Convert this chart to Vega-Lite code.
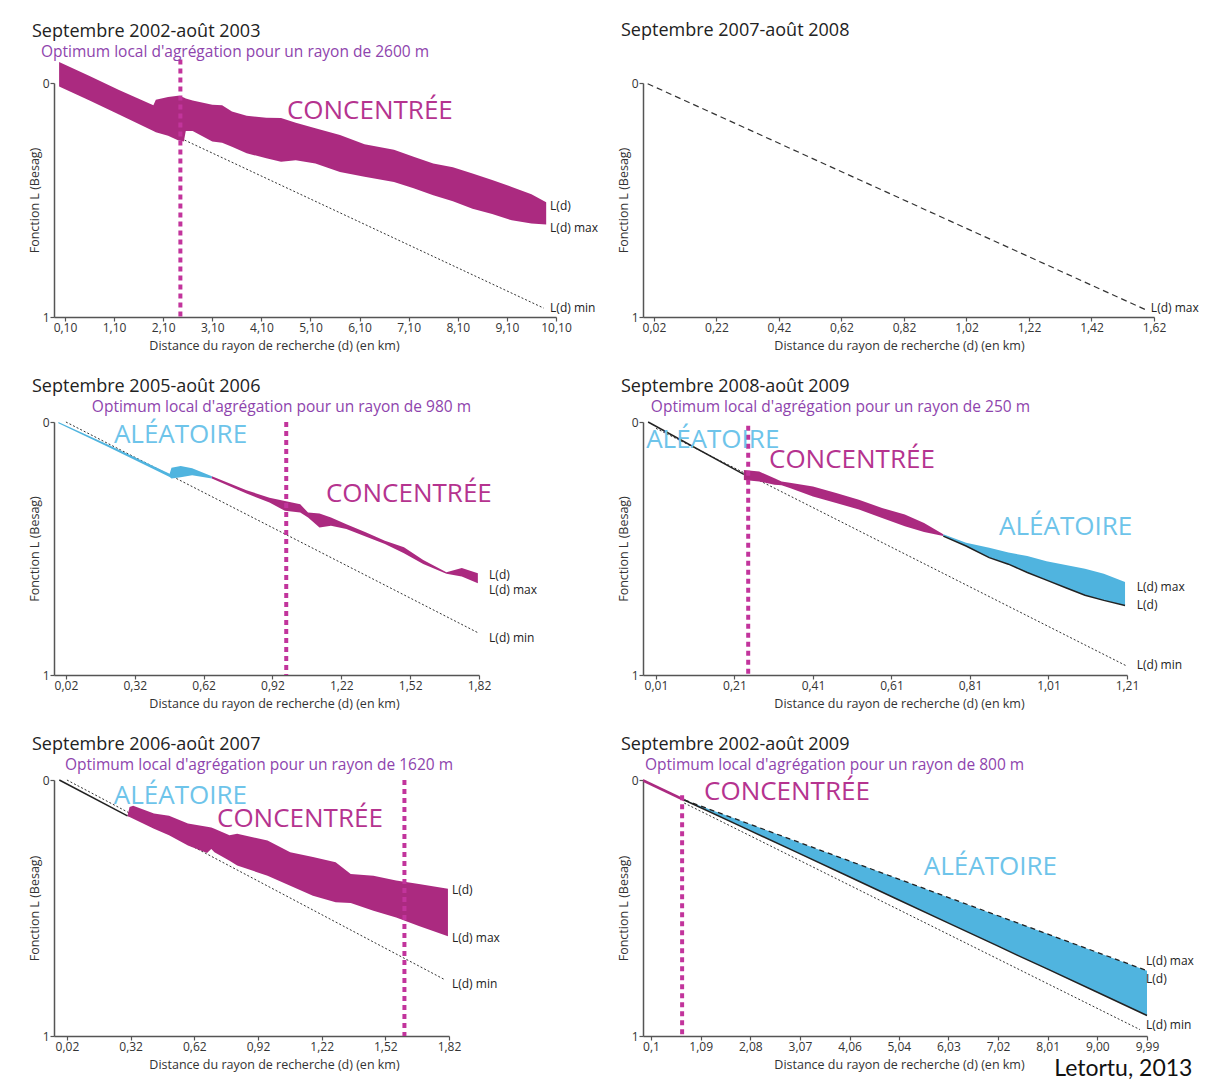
{
  "$schema": "https://vega.github.io/schema/vega-lite/v6.json",
  "padding": {"left": 28, "top": 22, "right": 0, "bottom": 0},
  "background": "white",
  "columns": 2,
  "align": "each",
  "bounds": "flush",
  "spacing": {"row": 105, "column": 87},
  "config": {
    "font": "Open Sans",
    "view": {"stroke": null},
    "axis": {"grid": false, "domainColor": "#555", "domainWidth": 1.5, "tickColor": "#555", "tickWidth": 1.2, "tickSize": 4,
      "labelFont": "Open Sans", "labelFontSize": 12, "labelColor": "#333", "labelPadding": 1, "labelFlush": false, "labelOverlap": false, "labelBound": false,
      "titleFont": "Open Sans", "titleFontSize": 12.5, "titleFontWeight": "normal", "titleColor": "#333"},
    "axisX": {"titlePadding": 6},
    "axisY": {"titlePadding": 1, "format": "d"},
    "title": {"anchor": "start", "frame": "group", "dx": -22, "font": "Open Sans", "fontSize": 18, "fontWeight": "normal", "color": "#222"}
  },
  "concat": [
    {
      "width": 502, "height": 234,
      "title": {"text": "Septembre 2002-août 2003", "offset": 4},
      "layer": [
        {"data": {"values": [{}]}, "mark": {"type": "rule", "color": "#8c8c8c", "strokeWidth": 1.5},
         "encoding": {"y": {"datum": 0, "type": "quantitative", "scale": {"domain": [0, 1], "reverse": true, "nice": false, "zero": false}, "axis": {"values": [0, 1], "format": "d", "title": "Fonction L (Besag)"}},
           "x": {"datum": 0.1, "type": "quantitative", "scale": {"domain": [-0.124, 10.1], "nice": false, "zero": false}, "axis": {"values": [0.1, 1.1, 2.1, 3.1, 4.1, 5.1, 6.1, 7.1, 8.1, 9.1, 10.1], "labelExpr": "replace(format(datum.value, '.2f'), '.', ',')", "title": "Distance du rayon de recherche (d) (en km)", "titleX": 220}}}},
        {"data": {"values": [{"d": 0.1, "L": 0.005}, {"d": 9.85, "L": 0.962}]},
         "mark": {"type": "line", "color": "#333", "strokeWidth": 1, "strokeDash": [2, 2]},
         "encoding": {"x": {"field": "d", "type": "quantitative"}, "y": {"field": "L", "type": "quantitative"}}},
        {"data": {"values": [
          {"d": -0.02, "L": -0.09, "L2": 0.015, "zone": "Concentrée", "seg": 1},
          {"d": 0.6, "L": -0.03, "L2": 0.075, "zone": "Concentrée", "seg": 1},
          {"d": 1.2, "L": 0.03, "L2": 0.135, "zone": "Concentrée", "seg": 1},
          {"d": 1.9, "L": 0.095, "L2": 0.205, "zone": "Concentrée", "seg": 1},
          {"d": 1.95, "L": 0.072, "L2": 0.21, "zone": "Concentrée", "seg": 1},
          {"d": 2.2, "L": 0.06, "L2": 0.225, "zone": "Concentrée", "seg": 1},
          {"d": 2.4, "L": 0.055, "L2": 0.245, "zone": "Concentrée", "seg": 1},
          {"d": 2.52, "L": 0.062, "L2": 0.25, "zone": "Concentrée", "seg": 1},
          {"d": 2.56, "L": 0.066, "L2": 0.205, "zone": "Concentrée", "seg": 1},
          {"d": 2.7, "L": 0.075, "L2": 0.205, "zone": "Concentrée", "seg": 1},
          {"d": 3.1, "L": 0.093, "L2": 0.25, "zone": "Concentrée", "seg": 1},
          {"d": 3.3, "L": 0.095, "L2": 0.255, "zone": "Concentrée", "seg": 1},
          {"d": 3.5, "L": 0.122, "L2": 0.272, "zone": "Concentrée", "seg": 1},
          {"d": 3.8, "L": 0.14, "L2": 0.3, "zone": "Concentrée", "seg": 1},
          {"d": 4.2, "L": 0.148, "L2": 0.322, "zone": "Concentrée", "seg": 1},
          {"d": 4.5, "L": 0.15, "L2": 0.337, "zone": "Concentrée", "seg": 1},
          {"d": 4.8, "L": 0.17, "L2": 0.33, "zone": "Concentrée", "seg": 1},
          {"d": 5.2, "L": 0.193, "L2": 0.344, "zone": "Concentrée", "seg": 1},
          {"d": 5.7, "L": 0.222, "L2": 0.38, "zone": "Concentrée", "seg": 1},
          {"d": 6.2, "L": 0.262, "L2": 0.401, "zone": "Concentrée", "seg": 1},
          {"d": 6.8, "L": 0.285, "L2": 0.423, "zone": "Concentrée", "seg": 1},
          {"d": 7.2, "L": 0.315, "L2": 0.45, "zone": "Concentrée", "seg": 1},
          {"d": 7.6, "L": 0.344, "L2": 0.48, "zone": "Concentrée", "seg": 1},
          {"d": 8.0, "L": 0.36, "L2": 0.505, "zone": "Concentrée", "seg": 1},
          {"d": 8.4, "L": 0.387, "L2": 0.537, "zone": "Concentrée", "seg": 1},
          {"d": 8.8, "L": 0.415, "L2": 0.56, "zone": "Concentrée", "seg": 1},
          {"d": 9.2, "L": 0.444, "L2": 0.587, "zone": "Concentrée", "seg": 1},
          {"d": 9.6, "L": 0.475, "L2": 0.6, "zone": "Concentrée", "seg": 1},
          {"d": 9.9, "L": 0.51, "L2": 0.605, "zone": "Concentrée", "seg": 1}]},
         "mark": {"type": "area"},
         "encoding": {"x": {"field": "d", "type": "quantitative"}, "y": {"field": "L", "type": "quantitative"}, "y2": {"field": "L2"},
           "color": {"field": "zone", "type": "nominal", "scale": {"domain": ["Concentrée", "Aléatoire"], "range": ["#ab2a80", "#50b4df"]}, "legend": null},
           "detail": {"field": "seg"}}},
        {"data": {"values": [{}]}, "mark": {"type": "rule", "color": "#c2349c", "strokeWidth": 4, "strokeDash": [5, 4]},
         "encoding": {"x": {"datum": 2.45, "type": "quantitative"}, "y": {"datum": -0.1, "type": "quantitative"}, "y2": {"datum": 1}}},
        {"data": {"values": [{"d": -0.389, "L": -0.132, "label": "Optimum local d'agrégation pour un rayon de 2600 m"}]},
         "mark": {"type": "text", "align": "left", "baseline": "middle", "fontSize": 15.5, "color": "#8e44ad"},
         "encoding": {"x": {"field": "d", "type": "quantitative"}, "y": {"field": "L", "type": "quantitative"}, "text": {"field": "label"}}},
        {"data": {"values": [{"d": 4.62, "L": 0.12, "label": "CONCENTRÉE"}]},
         "mark": {"type": "text", "align": "left", "baseline": "middle", "fontSize": 26, "color": "#b5338f"},
         "encoding": {"x": {"field": "d", "type": "quantitative"}, "y": {"field": "L", "type": "quantitative"}, "text": {"field": "label"}}},
        {"data": {"values": [{"d": 9.98, "L": 0.526, "label": "L(d)"}, {"d": 9.98, "L": 0.62, "label": "L(d) max"}, {"d": 9.98, "L": 0.962, "label": "L(d) min"}]},
         "mark": {"type": "text", "align": "left", "baseline": "middle", "fontSize": 12, "color": "#222"},
         "encoding": {"x": {"field": "d", "type": "quantitative"}, "y": {"field": "L", "type": "quantitative"}, "text": {"field": "label"}}}
      ]
    },
    {
      "width": 511, "height": 234,
      "title": {"text": "Septembre 2007-août 2008", "offset": 37},
      "layer": [
        {"data": {"values": [{}]}, "mark": {"type": "rule", "color": "#8c8c8c", "strokeWidth": 1.5},
         "encoding": {"y": {"datum": 0, "type": "quantitative", "scale": {"domain": [0, 1], "reverse": true, "nice": false, "zero": false}, "axis": {"values": [0, 1], "format": "d", "title": "Fonction L (Besag)"}},
           "x": {"datum": 0.02, "type": "quantitative", "scale": {"domain": [-0.015, 1.62], "nice": false, "zero": false}, "axis": {"values": [0.02, 0.22, 0.42, 0.62, 0.82, 1.02, 1.22, 1.42, 1.62], "labelExpr": "replace(format(datum.value, '.2f'), '.', ',')", "title": "Distance du rayon de recherche (d) (en km)", "titleX": 256}}}},
        {"data": {"values": [{"d": 0.0, "L": 0.003}, {"d": 1.595, "L": 0.97}]},
         "mark": {"type": "line", "color": "#333", "strokeWidth": 1.2, "strokeDash": [6, 4]},
         "encoding": {"x": {"field": "d", "type": "quantitative"}, "y": {"field": "L", "type": "quantitative"}}},
        {"data": {"values": [{"d": 1.61, "L": 0.962, "label": "L(d) max"}]},
         "mark": {"type": "text", "align": "left", "baseline": "middle", "fontSize": 12, "color": "#222"},
         "encoding": {"x": {"field": "d", "type": "quantitative"}, "y": {"field": "L", "type": "quantitative"}, "text": {"field": "label"}}}
      ]
    },
    {
      "width": 425, "height": 253,
      "title": {"text": "Septembre 2005-août 2006", "offset": 4},
      "layer": [
        {"data": {"values": [{}]}, "mark": {"type": "rule", "color": "#8c8c8c", "strokeWidth": 1.5},
         "encoding": {"y": {"datum": 0, "type": "quantitative", "scale": {"domain": [0, 1], "reverse": true, "nice": false, "zero": false}, "axis": {"values": [0, 1], "format": "d", "title": "Fonction L (Besag)"}},
           "x": {"datum": 0.02, "type": "quantitative", "scale": {"domain": [-0.032, 1.82], "nice": false, "zero": false}, "axis": {"values": [0.02, 0.32, 0.62, 0.92, 1.22, 1.52, 1.82], "labelExpr": "replace(format(datum.value, '.2f'), '.', ',')", "title": "Distance du rayon de recherche (d) (en km)", "titleX": 220}}}},
        {"data": {"values": [{"d": 0.02, "L": 0.0}, {"d": 1.82, "L": 0.835}]},
         "mark": {"type": "line", "color": "#333", "strokeWidth": 1, "strokeDash": [2, 2]},
         "encoding": {"x": {"field": "d", "type": "quantitative"}, "y": {"field": "L", "type": "quantitative"}}},
        {"data": {"values": [
          {"d": -0.013, "L": 0.0, "L2": 0.005, "zone": "Aléatoire", "seg": 1},
          {"d": 0.2, "L": 0.088, "L2": 0.097, "zone": "Aléatoire", "seg": 1},
          {"d": 0.472, "L": 0.205, "L2": 0.217, "zone": "Aléatoire", "seg": 1},
          {"d": 0.48, "L": 0.181, "L2": 0.223, "zone": "Aléatoire", "seg": 1},
          {"d": 0.52, "L": 0.174, "L2": 0.218, "zone": "Aléatoire", "seg": 1},
          {"d": 0.57, "L": 0.183, "L2": 0.21, "zone": "Aléatoire", "seg": 1},
          {"d": 0.656, "L": 0.214, "L2": 0.223, "zone": "Aléatoire", "seg": 1},
          {"d": 0.656, "L": 0.214, "L2": 0.223, "zone": "Concentrée", "seg": 2},
          {"d": 0.807, "L": 0.27, "L2": 0.283, "zone": "Concentrée", "seg": 2},
          {"d": 0.907, "L": 0.299, "L2": 0.318, "zone": "Concentrée", "seg": 2},
          {"d": 0.974, "L": 0.312, "L2": 0.351, "zone": "Concentrée", "seg": 2},
          {"d": 1.041, "L": 0.325, "L2": 0.358, "zone": "Concentrée", "seg": 2},
          {"d": 1.075, "L": 0.358, "L2": 0.377, "zone": "Concentrée", "seg": 2},
          {"d": 1.125, "L": 0.362, "L2": 0.417, "zone": "Concentrée", "seg": 2},
          {"d": 1.175, "L": 0.377, "L2": 0.41, "zone": "Concentrée", "seg": 2},
          {"d": 1.242, "L": 0.404, "L2": 0.423, "zone": "Concentrée", "seg": 2},
          {"d": 1.326, "L": 0.436, "L2": 0.453, "zone": "Concentrée", "seg": 2},
          {"d": 1.41, "L": 0.469, "L2": 0.482, "zone": "Concentrée", "seg": 2},
          {"d": 1.493, "L": 0.495, "L2": 0.519, "zone": "Concentrée", "seg": 2},
          {"d": 1.577, "L": 0.545, "L2": 0.561, "zone": "Concentrée", "seg": 2},
          {"d": 1.678, "L": 0.594, "L2": 0.6, "zone": "Concentrée", "seg": 2},
          {"d": 1.745, "L": 0.577, "L2": 0.611, "zone": "Concentrée", "seg": 2},
          {"d": 1.815, "L": 0.598, "L2": 0.637, "zone": "Concentrée", "seg": 2}]},
         "mark": {"type": "area"},
         "encoding": {"x": {"field": "d", "type": "quantitative"}, "y": {"field": "L", "type": "quantitative"}, "y2": {"field": "L2"},
           "color": {"field": "zone", "type": "nominal", "scale": {"domain": ["Concentrée", "Aléatoire"], "range": ["#ab2a80", "#50b4df"]}, "legend": null},
           "detail": {"field": "seg"}}},
        {"data": {"values": [{}]}, "mark": {"type": "rule", "color": "#c2349c", "strokeWidth": 4, "strokeDash": [5, 4]},
         "encoding": {"x": {"datum": 0.98, "type": "quantitative"}, "y": {"datum": 0.0, "type": "quantitative"}, "y2": {"datum": 1}}},
        {"data": {"values": [{"d": 0.133, "L": -0.06, "label": "Optimum local d'agrégation pour un rayon de 980 m"}]},
         "mark": {"type": "text", "align": "left", "baseline": "middle", "fontSize": 15.5, "color": "#8e44ad"},
         "encoding": {"x": {"field": "d", "type": "quantitative"}, "y": {"field": "L", "type": "quantitative"}, "text": {"field": "label"}}},
        {"data": {"values": [{"d": 1.153, "L": 0.285, "label": "CONCENTRÉE"}]},
         "mark": {"type": "text", "align": "left", "baseline": "middle", "fontSize": 26, "color": "#b5338f"},
         "encoding": {"x": {"field": "d", "type": "quantitative"}, "y": {"field": "L", "type": "quantitative"}, "text": {"field": "label"}}},
        {"data": {"values": [{"d": 0.229, "L": 0.051, "label": "ALÉATOIRE"}]},
         "mark": {"type": "text", "align": "left", "baseline": "middle", "fontSize": 26, "color": "#6ec4ea"},
         "encoding": {"x": {"field": "d", "type": "quantitative"}, "y": {"field": "L", "type": "quantitative"}, "text": {"field": "label"}}},
        {"data": {"values": [{"d": 1.864, "L": 0.603, "label": "L(d)"}, {"d": 1.864, "L": 0.666, "label": "L(d) max"}, {"d": 1.864, "L": 0.854, "label": "L(d) min"}]},
         "mark": {"type": "text", "align": "left", "baseline": "middle", "fontSize": 12, "color": "#222"},
         "encoding": {"x": {"field": "d", "type": "quantitative"}, "y": {"field": "L", "type": "quantitative"}, "text": {"field": "label"}}}
      ]
    },
    {
      "width": 484, "height": 253,
      "title": {"text": "Septembre 2008-août 2009", "offset": 4},
      "layer": [
        {"data": {"values": [{}]}, "mark": {"type": "rule", "color": "#8c8c8c", "strokeWidth": 1.5},
         "encoding": {"y": {"datum": 0, "type": "quantitative", "scale": {"domain": [0, 1], "reverse": true, "nice": false, "zero": false}, "axis": {"values": [0, 1], "format": "d", "title": "Fonction L (Besag)"}},
           "x": {"datum": 0.01, "type": "quantitative", "scale": {"domain": [-0.023, 1.21], "nice": false, "zero": false}, "axis": {"values": [0.01, 0.21, 0.41, 0.61, 0.81, 1.01, 1.21], "labelExpr": "replace(format(datum.value, '.2f'), '.', ',')", "title": "Distance du rayon de recherche (d) (en km)", "titleX": 256}}}},
        {"data": {"values": [{"d": 0.01, "L": 0.025}, {"d": 1.21, "L": 0.965}]},
         "mark": {"type": "line", "color": "#333", "strokeWidth": 1, "strokeDash": [2, 2]},
         "encoding": {"x": {"field": "d", "type": "quantitative"}, "y": {"field": "L", "type": "quantitative"}}},
        {"data": {"values": [
          {"d": 0.234, "L": 0.19, "L2": 0.229, "zone": "Concentrée", "seg": 1},
          {"d": 0.273, "L": 0.196, "L2": 0.235, "zone": "Concentrée", "seg": 1},
          {"d": 0.312, "L": 0.222, "L2": 0.248, "zone": "Concentrée", "seg": 1},
          {"d": 0.33, "L": 0.235, "L2": 0.25, "zone": "Concentrée", "seg": 1},
          {"d": 0.351, "L": 0.24, "L2": 0.261, "zone": "Concentrée", "seg": 1},
          {"d": 0.41, "L": 0.255, "L2": 0.294, "zone": "Concentrée", "seg": 1},
          {"d": 0.469, "L": 0.281, "L2": 0.32, "zone": "Concentrée", "seg": 1},
          {"d": 0.527, "L": 0.307, "L2": 0.346, "zone": "Concentrée", "seg": 1},
          {"d": 0.586, "L": 0.34, "L2": 0.379, "zone": "Concentrée", "seg": 1},
          {"d": 0.644, "L": 0.366, "L2": 0.412, "zone": "Concentrée", "seg": 1},
          {"d": 0.693, "L": 0.399, "L2": 0.435, "zone": "Concentrée", "seg": 1},
          {"d": 0.742, "L": 0.444, "L2": 0.451, "zone": "Concentrée", "seg": 1},
          {"d": 0.742, "L": 0.444, "L2": 0.451, "zone": "Aléatoire", "seg": 2},
          {"d": 0.8, "L": 0.477, "L2": 0.49, "zone": "Aléatoire", "seg": 2},
          {"d": 0.859, "L": 0.497, "L2": 0.536, "zone": "Aléatoire", "seg": 2},
          {"d": 0.908, "L": 0.516, "L2": 0.562, "zone": "Aléatoire", "seg": 2},
          {"d": 0.956, "L": 0.53, "L2": 0.595, "zone": "Aléatoire", "seg": 2},
          {"d": 1.005, "L": 0.55, "L2": 0.625, "zone": "Aléatoire", "seg": 2},
          {"d": 1.054, "L": 0.565, "L2": 0.655, "zone": "Aléatoire", "seg": 2},
          {"d": 1.103, "L": 0.58, "L2": 0.685, "zone": "Aléatoire", "seg": 2},
          {"d": 1.151, "L": 0.6, "L2": 0.705, "zone": "Aléatoire", "seg": 2},
          {"d": 1.205, "L": 0.632, "L2": 0.725, "zone": "Aléatoire", "seg": 2}]},
         "mark": {"type": "area"},
         "encoding": {"x": {"field": "d", "type": "quantitative"}, "y": {"field": "L", "type": "quantitative"}, "y2": {"field": "L2"},
           "color": {"field": "zone", "type": "nominal", "scale": {"domain": ["Concentrée", "Aléatoire"], "range": ["#ab2a80", "#50b4df"]}, "legend": null},
           "detail": {"field": "seg"}}},
        {"data": {"values": [
          {"d": -0.01, "L": 0.0, "seg": 1}, {"d": 0.234, "L": 0.207, "seg": 1},
          {"d": 0.742, "L": 0.451, "seg": 2}, {"d": 0.8, "L": 0.49, "seg": 2}, {"d": 0.859, "L": 0.536, "seg": 2}, {"d": 0.908, "L": 0.562, "seg": 2},
          {"d": 0.956, "L": 0.595, "seg": 2}, {"d": 1.005, "L": 0.625, "seg": 2}, {"d": 1.054, "L": 0.655, "seg": 2}, {"d": 1.103, "L": 0.685, "seg": 2},
          {"d": 1.151, "L": 0.705, "seg": 2}, {"d": 1.205, "L": 0.725, "seg": 2}]},
         "mark": {"type": "line", "color": "#222", "strokeWidth": 1.5},
         "encoding": {"x": {"field": "d", "type": "quantitative"}, "y": {"field": "L", "type": "quantitative"}, "detail": {"field": "seg"}}},
        {"data": {"values": [{}]}, "mark": {"type": "rule", "color": "#c2349c", "strokeWidth": 4, "strokeDash": [5, 4]},
         "encoding": {"x": {"datum": 0.245, "type": "quantitative"}, "y": {"datum": 0.015, "type": "quantitative"}, "y2": {"datum": 1}}},
        {"data": {"values": [{"d": -0.003, "L": -0.06, "label": "Optimum local d'agrégation pour un rayon de 250 m"}]},
         "mark": {"type": "text", "align": "left", "baseline": "middle", "fontSize": 15.5, "color": "#8e44ad"},
         "encoding": {"x": {"field": "d", "type": "quantitative"}, "y": {"field": "L", "type": "quantitative"}, "text": {"field": "label"}}},
        {"data": {"values": [{"d": 0.298, "L": 0.15, "label": "CONCENTRÉE"}]},
         "mark": {"type": "text", "align": "left", "baseline": "middle", "fontSize": 26, "color": "#b5338f"},
         "encoding": {"x": {"field": "d", "type": "quantitative"}, "y": {"field": "L", "type": "quantitative"}, "text": {"field": "label"}}},
        {"data": {"values": [{"d": -0.015, "L": 0.071, "label": "ALÉATOIRE"}, {"d": 0.884, "L": 0.415, "label": "ALÉATOIRE"}]},
         "mark": {"type": "text", "align": "left", "baseline": "middle", "fontSize": 26, "color": "#6ec4ea"},
         "encoding": {"x": {"field": "d", "type": "quantitative"}, "y": {"field": "L", "type": "quantitative"}, "text": {"field": "label"}}},
        {"data": {"values": [{"d": 1.235, "L": 0.652, "label": "L(d) max"}, {"d": 1.235, "L": 0.723, "label": "L(d)"}, {"d": 1.235, "L": 0.96, "label": "L(d) min"}]},
         "mark": {"type": "text", "align": "left", "baseline": "middle", "fontSize": 12, "color": "#222"},
         "encoding": {"x": {"field": "d", "type": "quantitative"}, "y": {"field": "L", "type": "quantitative"}, "text": {"field": "label"}}}
      ]
    },
    {
      "width": 395, "height": 256,
      "title": {"text": "Septembre 2006-août 2007", "offset": 4},
      "layer": [
        {"data": {"values": [{}]}, "mark": {"type": "rule", "color": "#8c8c8c", "strokeWidth": 1.5},
         "encoding": {"y": {"datum": 0, "type": "quantitative", "scale": {"domain": [0, 1], "reverse": true, "nice": false, "zero": false}, "axis": {"values": [0, 1], "format": "d", "title": "Fonction L (Besag)"}},
           "x": {"datum": 0.02, "type": "quantitative", "scale": {"domain": [-0.041, 1.82], "nice": false, "zero": false}, "axis": {"values": [0.02, 0.32, 0.62, 0.92, 1.22, 1.52, 1.82], "labelExpr": "replace(format(datum.value, '.2f'), '.', ',')", "title": "Distance du rayon de recherche (d) (en km)", "titleX": 220}}}},
        {"data": {"values": [{"d": 0.02, "L": 0.0}, {"d": 1.8, "L": 0.78}]},
         "mark": {"type": "line", "color": "#333", "strokeWidth": 1, "strokeDash": [2, 2]},
         "encoding": {"x": {"field": "d", "type": "quantitative"}, "y": {"field": "L", "type": "quantitative"}}},
        {"data": {"values": [
          {"d": 0.305, "L": 0.14, "L2": 0.142, "zone": "Concentrée", "seg": 1},
          {"d": 0.315, "L": 0.105, "L2": 0.145, "zone": "Concentrée", "seg": 1},
          {"d": 0.332, "L": 0.101, "L2": 0.151, "zone": "Concentrée", "seg": 1},
          {"d": 0.43, "L": 0.131, "L2": 0.19, "zone": "Concentrée", "seg": 1},
          {"d": 0.501, "L": 0.14, "L2": 0.216, "zone": "Concentrée", "seg": 1},
          {"d": 0.59, "L": 0.17, "L2": 0.256, "zone": "Concentrée", "seg": 1},
          {"d": 0.68, "L": 0.183, "L2": 0.285, "zone": "Concentrée", "seg": 1},
          {"d": 0.7, "L": 0.186, "L2": 0.27, "zone": "Concentrée", "seg": 1},
          {"d": 0.715, "L": 0.19, "L2": 0.282, "zone": "Concentrée", "seg": 1},
          {"d": 0.786, "L": 0.216, "L2": 0.315, "zone": "Concentrée", "seg": 1},
          {"d": 0.822, "L": 0.21, "L2": 0.334, "zone": "Concentrée", "seg": 1},
          {"d": 0.965, "L": 0.236, "L2": 0.374, "zone": "Concentrée", "seg": 1},
          {"d": 1.072, "L": 0.282, "L2": 0.413, "zone": "Concentrée", "seg": 1},
          {"d": 1.179, "L": 0.301, "L2": 0.452, "zone": "Concentrée", "seg": 1},
          {"d": 1.286, "L": 0.321, "L2": 0.478, "zone": "Concentrée", "seg": 1},
          {"d": 1.357, "L": 0.367, "L2": 0.48, "zone": "Concentrée", "seg": 1},
          {"d": 1.464, "L": 0.374, "L2": 0.511, "zone": "Concentrée", "seg": 1},
          {"d": 1.571, "L": 0.393, "L2": 0.537, "zone": "Concentrée", "seg": 1},
          {"d": 1.678, "L": 0.406, "L2": 0.57, "zone": "Concentrée", "seg": 1},
          {"d": 1.815, "L": 0.425, "L2": 0.61, "zone": "Concentrée", "seg": 1}]},
         "mark": {"type": "area"},
         "encoding": {"x": {"field": "d", "type": "quantitative"}, "y": {"field": "L", "type": "quantitative"}, "y2": {"field": "L2"},
           "color": {"field": "zone", "type": "nominal", "scale": {"domain": ["Concentrée", "Aléatoire"], "range": ["#ab2a80", "#50b4df"]}, "legend": null},
           "detail": {"field": "seg"}}},
        {"data": {"values": [{"d": -0.016, "L": 0.0}, {"d": 0.305, "L": 0.14}]},
         "mark": {"type": "line", "color": "#222", "strokeWidth": 1.5},
         "encoding": {"x": {"field": "d", "type": "quantitative"}, "y": {"field": "L", "type": "quantitative"}}},
        {"data": {"values": [{}]}, "mark": {"type": "rule", "color": "#c2349c", "strokeWidth": 4, "strokeDash": [5, 4]},
         "encoding": {"x": {"datum": 1.61, "type": "quantitative"}, "y": {"datum": 0.0, "type": "quantitative"}, "y2": {"datum": 1}}},
        {"data": {"values": [{"d": 0.011, "L": -0.059, "label": "Optimum local d'agrégation pour un rayon de 1620 m"}]},
         "mark": {"type": "text", "align": "left", "baseline": "middle", "fontSize": 15.5, "color": "#8e44ad"},
         "encoding": {"x": {"field": "d", "type": "quantitative"}, "y": {"field": "L", "type": "quantitative"}, "text": {"field": "label"}}},
        {"data": {"values": [{"d": 0.241, "L": 0.0625, "label": "ALÉATOIRE"}]},
         "mark": {"type": "text", "align": "left", "baseline": "middle", "fontSize": 26, "color": "#6ec4ea"},
         "encoding": {"x": {"field": "d", "type": "quantitative"}, "y": {"field": "L", "type": "quantitative"}, "text": {"field": "label"}}},
        {"data": {"values": [{"d": 0.727, "L": 0.152, "label": "CONCENTRÉE"}]},
         "mark": {"type": "text", "align": "left", "baseline": "middle", "fontSize": 26, "color": "#b5338f"},
         "encoding": {"x": {"field": "d", "type": "quantitative"}, "y": {"field": "L", "type": "quantitative"}, "text": {"field": "label"}}},
        {"data": {"values": [{"d": 1.834, "L": 0.43, "label": "L(d)"}, {"d": 1.834, "L": 0.617, "label": "L(d) max"}, {"d": 1.834, "L": 0.797, "label": "L(d) min"}]},
         "mark": {"type": "text", "align": "left", "baseline": "middle", "fontSize": 12, "color": "#222"},
         "encoding": {"x": {"field": "d", "type": "quantitative"}, "y": {"field": "L", "type": "quantitative"}, "text": {"field": "label"}}}
      ]
    },
    {
      "width": 504, "height": 256,
      "title": {"text": "Septembre 2002-août 2009", "offset": 4},
      "layer": [
        {"data": {"values": [{}]}, "mark": {"type": "rule", "color": "#8c8c8c", "strokeWidth": 1.5},
         "encoding": {"y": {"datum": 0, "type": "quantitative", "scale": {"domain": [0, 1], "reverse": true, "nice": false, "zero": false}, "axis": {"values": [0, 1], "format": "d", "title": "Fonction L (Besag)"}},
           "x": {"datum": 0.1, "type": "quantitative", "scale": {"domain": [-0.06, 9.99], "nice": false, "zero": false}, "axis": {"values": [0.1, 1.09, 2.08, 3.07, 4.06, 5.04, 6.03, 7.02, 8.01, 9.0, 9.99], "labelExpr": "datum.value < 0.5 ? '0,1' : replace(format(datum.value, '.2f'), '.', ',')", "title": "Distance du rayon de recherche (d) (en km)", "titleX": 256}}}},
        {"data": {"values": [{"d": 0.762, "L": 0.09}, {"d": 9.85, "L": 0.975}]},
         "mark": {"type": "line", "color": "#333", "strokeWidth": 1, "strokeDash": [2, 2]},
         "encoding": {"x": {"field": "d", "type": "quantitative"}, "y": {"field": "L", "type": "quantitative"}}},
        {"data": {"values": [
          {"d": -0.056, "L": -0.004, "L2": 0.008, "zone": "Concentrée", "seg": 1},
          {"d": 0.762, "L": 0.072, "L2": 0.084, "zone": "Concentrée", "seg": 1},
          {"d": 0.762, "L": 0.078, "L2": 0.078, "zone": "Aléatoire", "seg": 2},
          {"d": 2.0, "L": 0.167, "L2": 0.191, "zone": "Aléatoire", "seg": 2},
          {"d": 3.0, "L": 0.24, "L2": 0.282, "zone": "Aléatoire", "seg": 2},
          {"d": 4.0, "L": 0.312, "L2": 0.373, "zone": "Aléatoire", "seg": 2},
          {"d": 5.0, "L": 0.384, "L2": 0.465, "zone": "Aléatoire", "seg": 2},
          {"d": 6.0, "L": 0.457, "L2": 0.556, "zone": "Aléatoire", "seg": 2},
          {"d": 7.0, "L": 0.529, "L2": 0.647, "zone": "Aléatoire", "seg": 2},
          {"d": 7.4, "L": 0.558, "L2": 0.684, "zone": "Aléatoire", "seg": 2},
          {"d": 8.0, "L": 0.601, "L2": 0.738, "zone": "Aléatoire", "seg": 2},
          {"d": 9.0, "L": 0.674, "L2": 0.829, "zone": "Aléatoire", "seg": 2},
          {"d": 9.99, "L": 0.745, "L2": 0.92, "zone": "Aléatoire", "seg": 2}]},
         "mark": {"type": "area"},
         "encoding": {"x": {"field": "d", "type": "quantitative"}, "y": {"field": "L", "type": "quantitative"}, "y2": {"field": "L2"},
           "color": {"field": "zone", "type": "nominal", "scale": {"domain": ["Concentrée", "Aléatoire"], "range": ["#ab2a80", "#50b4df"]}, "legend": null},
           "detail": {"field": "seg"}}},
        {"data": {"values": [{"d": 0.762, "L": 0.078}, {"d": 2.0, "L": 0.191}, {"d": 3.0, "L": 0.282}, {"d": 4.0, "L": 0.373}, {"d": 5.0, "L": 0.465}, {"d": 6.0, "L": 0.556}, {"d": 7.0, "L": 0.647}, {"d": 7.4, "L": 0.684}, {"d": 8.0, "L": 0.738}, {"d": 9.0, "L": 0.829}, {"d": 9.99, "L": 0.92}]},
         "mark": {"type": "line", "color": "#222", "strokeWidth": 1.5},
         "encoding": {"x": {"field": "d", "type": "quantitative"}, "y": {"field": "L", "type": "quantitative"}}},
        {"data": {"values": [{"d": 0.762, "L": 0.078}, {"d": 9.99, "L": 0.745}]},
         "mark": {"type": "line", "color": "#222", "strokeWidth": 1.3, "strokeDash": [5, 4]},
         "encoding": {"x": {"field": "d", "type": "quantitative"}, "y": {"field": "L", "type": "quantitative"}}},
        {"data": {"values": [{}]}, "mark": {"type": "rule", "color": "#c2349c", "strokeWidth": 4, "strokeDash": [5, 4]},
         "encoding": {"x": {"datum": 0.72, "type": "quantitative"}, "y": {"datum": 0.06, "type": "quantitative"}, "y2": {"datum": 1}}},
        {"data": {"values": [{"d": -0.02, "L": -0.059, "label": "Optimum local d'agrégation pour un rayon de 800 m"}]},
         "mark": {"type": "text", "align": "left", "baseline": "middle", "fontSize": 15.5, "color": "#8e44ad"},
         "encoding": {"x": {"field": "d", "type": "quantitative"}, "y": {"field": "L", "type": "quantitative"}, "text": {"field": "label"}}},
        {"data": {"values": [{"d": 1.157, "L": 0.047, "label": "CONCENTRÉE"}]},
         "mark": {"type": "text", "align": "left", "baseline": "middle", "fontSize": 26, "color": "#b5338f"},
         "encoding": {"x": {"field": "d", "type": "quantitative"}, "y": {"field": "L", "type": "quantitative"}, "text": {"field": "label"}}},
        {"data": {"values": [{"d": 5.54, "L": 0.34, "label": "ALÉATOIRE"}]},
         "mark": {"type": "text", "align": "left", "baseline": "middle", "fontSize": 26, "color": "#6ec4ea"},
         "encoding": {"x": {"field": "d", "type": "quantitative"}, "y": {"field": "L", "type": "quantitative"}, "text": {"field": "label"}}},
        {"data": {"values": [{"d": 9.97, "L": 0.707, "label": "L(d) max"}, {"d": 9.97, "L": 0.777, "label": "L(d)"}, {"d": 9.97, "L": 0.957, "label": "L(d) min"}]},
         "mark": {"type": "text", "align": "left", "baseline": "middle", "fontSize": 12, "color": "#222"},
         "encoding": {"x": {"field": "d", "type": "quantitative"}, "y": {"field": "L", "type": "quantitative"}, "text": {"field": "label"}}},
        {"data": {"values": [{"d": 8.14, "L": 1.129, "label": "Letortu, 2013"}]},
         "mark": {"type": "text", "align": "left", "baseline": "middle", "fontSize": 23, "font": "Lato", "color": "#111"},
         "encoding": {"x": {"field": "d", "type": "quantitative"}, "y": {"field": "L", "type": "quantitative"}, "text": {"field": "label"}}}
      ]
    }
  ]
}
